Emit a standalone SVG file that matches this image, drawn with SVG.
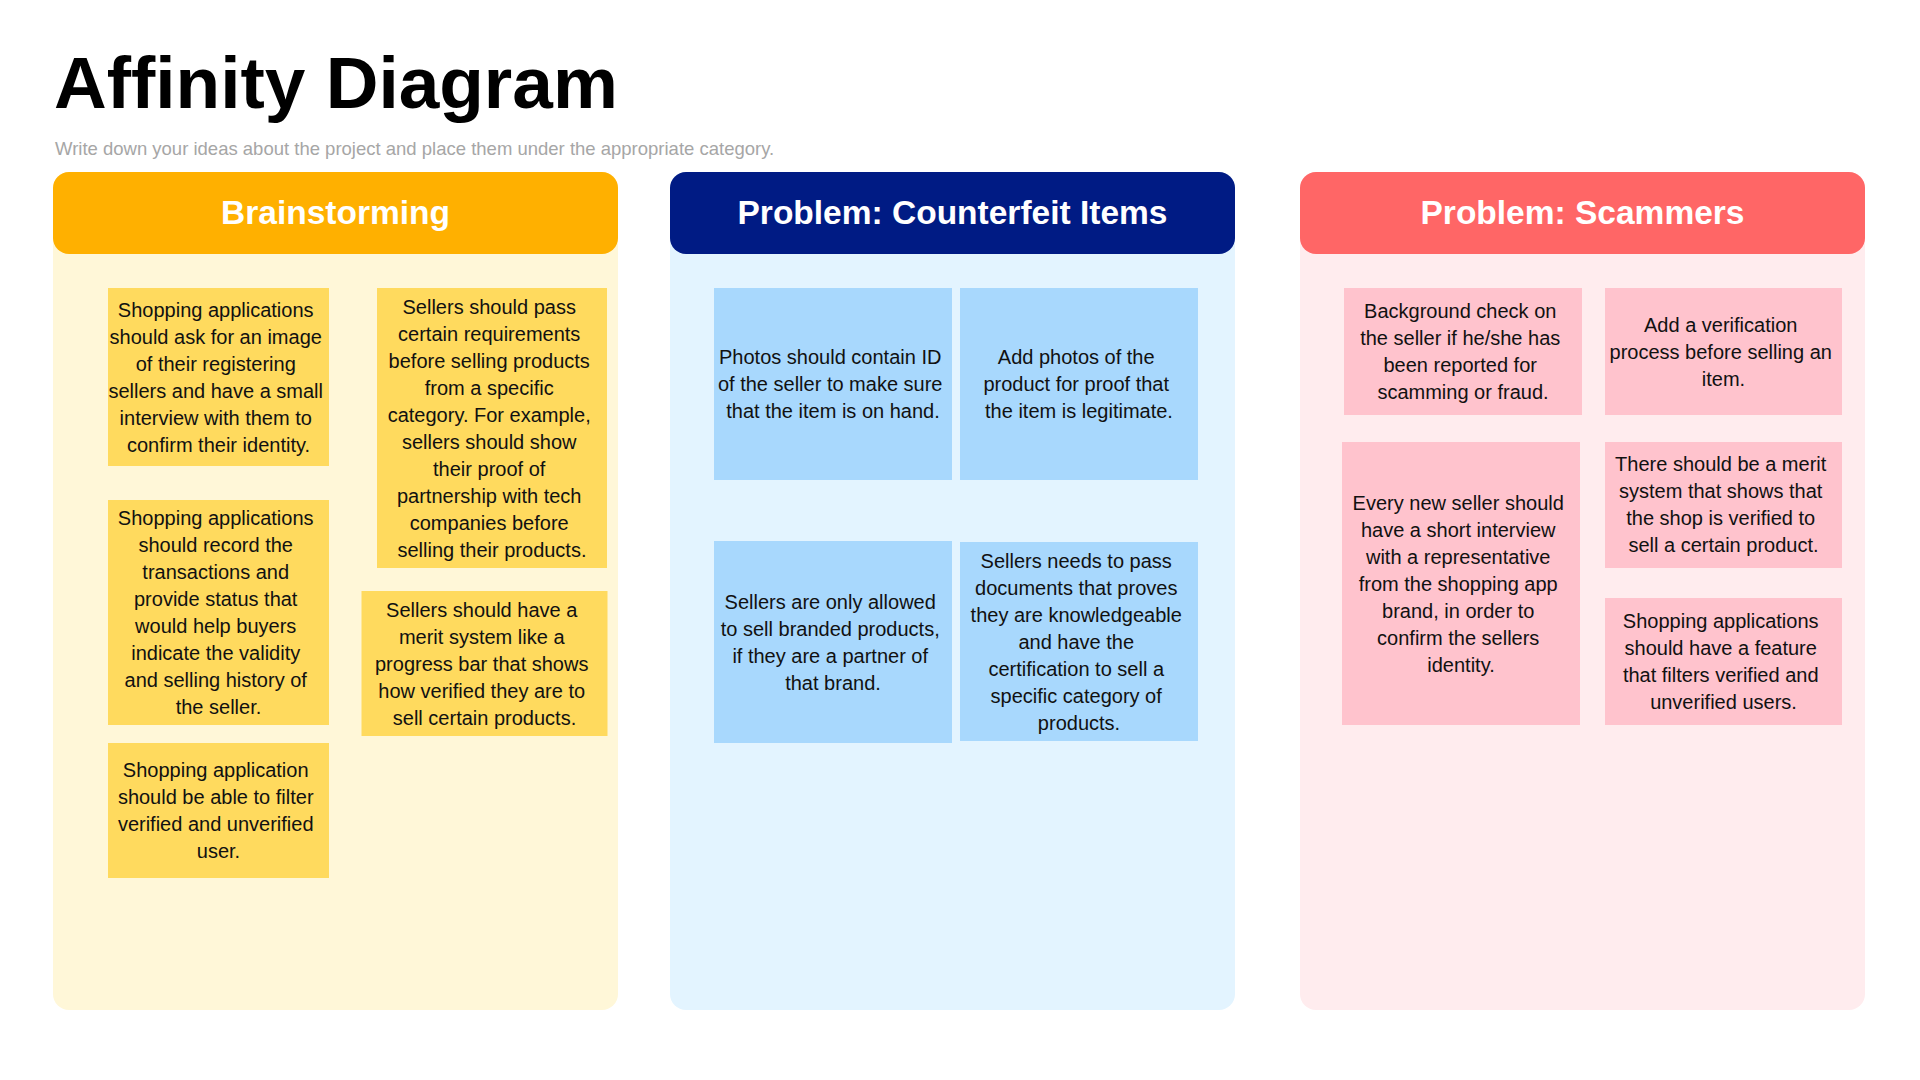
<svg xmlns="http://www.w3.org/2000/svg" width="1920" height="1080" viewBox="0 0 1920 1080">
  <style>
    .title { font-family: "Liberation Sans", Arial, sans-serif; font-weight: bold; font-size: 73px; fill: #000000; }
    .subtitle { font-family: "Liberation Sans", Arial, sans-serif; font-size: 18.5px; fill: #a6a6a6; }
    .head { font-family: "Liberation Sans", Arial, sans-serif; font-weight: bold; font-size: 33.5px; fill: #ffffff; text-anchor: middle; }
    .note { font-family: "Liberation Sans", Arial, sans-serif; font-size: 20px; fill: #111111; text-anchor: middle; }
    .yellow { fill: #ffda5e; }
    .blue { fill: #a8d8fd; }
    .pink { fill: #ffc3cd; }
  </style>

  <rect x="0" y="0" width="1920" height="1080" fill="#ffffff"/>

  <text class="title" x="54" y="108">Affinity Diagram</text>
  <text class="subtitle" x="55" y="155">Write down your ideas about the project and place them under the appropriate category.</text>

  <!-- Column panels -->
  <g id="col-brainstorming">
    <rect x="53" y="172" width="565" height="838" rx="16" fill="#fff7d8"/>
    <rect x="53" y="172" width="565" height="82" rx="16" fill="#ffb000"/>
    <text class="head" x="335.5" y="224">Brainstorming</text>
  </g>
  <g id="col-counterfeit">
    <rect x="670" y="172" width="565" height="838" rx="16" fill="#e3f4ff"/>
    <rect x="670" y="172" width="565" height="82" rx="16" fill="#001b84"/>
    <text class="head" x="952.5" y="224">Problem: Counterfeit Items</text>
  </g>
  <g id="col-scammers">
    <rect x="1300" y="172" width="565" height="838" rx="16" fill="#ffecee"/>
    <rect x="1300" y="172" width="565" height="82" rx="16" fill="#ff6666"/>
    <text class="head" x="1582.5" y="224">Problem: Scammers</text>
  </g>

  <!-- Brainstorming notes -->
  <g id="note-b1">
    <rect class="yellow" x="108" y="288" width="221" height="178"/>
    <text class="note" x="218.5" y="317">
      <tspan x="218.5">Shopping applications</tspan>
      <tspan x="218.5" dy="27">should ask for an image</tspan>
      <tspan x="218.5" dy="27">of their registering</tspan>
      <tspan x="218.5" dy="27">sellers and have a small</tspan>
      <tspan x="218.5" dy="27">interview with them to</tspan>
      <tspan x="218.5" dy="27">confirm their identity.</tspan>
    </text>
  </g>
  <g id="note-b2">
    <rect class="yellow" x="377" y="288" width="230" height="280"/>
    <text class="note" x="492" y="313.5">
      <tspan x="492">Sellers should pass</tspan>
      <tspan x="492" dy="27">certain requirements</tspan>
      <tspan x="492" dy="27">before selling products</tspan>
      <tspan x="492" dy="27">from a specific</tspan>
      <tspan x="492" dy="27">category. For example,</tspan>
      <tspan x="492" dy="27">sellers should show</tspan>
      <tspan x="492" dy="27">their proof of</tspan>
      <tspan x="492" dy="27">partnership with tech</tspan>
      <tspan x="492" dy="27">companies before</tspan>
      <tspan x="492" dy="27">selling their products.</tspan>
    </text>
  </g>
  <g id="note-b3">
    <rect class="yellow" x="108" y="500" width="221" height="225"/>
    <text class="note" x="218.5" y="524.5">
      <tspan x="218.5">Shopping applications</tspan>
      <tspan x="218.5" dy="27">should record the</tspan>
      <tspan x="218.5" dy="27">transactions and</tspan>
      <tspan x="218.5" dy="27">provide status that</tspan>
      <tspan x="218.5" dy="27">would help buyers</tspan>
      <tspan x="218.5" dy="27">indicate the validity</tspan>
      <tspan x="218.5" dy="27">and selling history of</tspan>
      <tspan x="218.5" dy="27">the seller.</tspan>
    </text>
  </g>
  <g id="note-b4">
    <rect class="yellow" x="361.5" y="591" width="246" height="145"/>
    <text class="note" x="484.5" y="616.5">
      <tspan x="484.5">Sellers should have a</tspan>
      <tspan x="484.5" dy="27">merit system like a</tspan>
      <tspan x="484.5" dy="27">progress bar that shows</tspan>
      <tspan x="484.5" dy="27">how verified they are to</tspan>
      <tspan x="484.5" dy="27">sell certain products.</tspan>
    </text>
  </g>
  <g id="note-b5">
    <rect class="yellow" x="108" y="743" width="221" height="135"/>
    <text class="note" x="218.5" y="777">
      <tspan x="218.5">Shopping application</tspan>
      <tspan x="218.5" dy="27">should be able to filter</tspan>
      <tspan x="218.5" dy="27">verified and unverified</tspan>
      <tspan x="218.5" dy="27">user.</tspan>
    </text>
  </g>

  <!-- Counterfeit notes -->
  <g id="note-c1">
    <rect class="blue" x="714" y="288" width="238" height="192"/>
    <text class="note" x="833" y="364">
      <tspan x="833">Photos should contain ID</tspan>
      <tspan x="833" dy="27">of the seller to make sure</tspan>
      <tspan x="833" dy="27">that the item is on hand.</tspan>
    </text>
  </g>
  <g id="note-c2">
    <rect class="blue" x="960" y="288" width="238" height="192"/>
    <text class="note" x="1079" y="364">
      <tspan x="1079">Add photos of the</tspan>
      <tspan x="1079" dy="27">product for proof that</tspan>
      <tspan x="1079" dy="27">the item is legitimate.</tspan>
    </text>
  </g>
  <g id="note-c3">
    <rect class="blue" x="714" y="541" width="238" height="202"/>
    <text class="note" x="833" y="608.5">
      <tspan x="833">Sellers are only allowed</tspan>
      <tspan x="833" dy="27">to sell branded products,</tspan>
      <tspan x="833" dy="27">if they are a partner of</tspan>
      <tspan x="833" dy="27">that brand.</tspan>
    </text>
  </g>
  <g id="note-c4">
    <rect class="blue" x="960" y="542" width="238" height="199"/>
    <text class="note" x="1079" y="567.5">
      <tspan x="1079">Sellers needs to pass</tspan>
      <tspan x="1079" dy="27">documents that proves</tspan>
      <tspan x="1079" dy="27">they are knowledgeable</tspan>
      <tspan x="1079" dy="27">and have the</tspan>
      <tspan x="1079" dy="27">certification to sell a</tspan>
      <tspan x="1079" dy="27">specific category of</tspan>
      <tspan x="1079" dy="27">products.</tspan>
    </text>
  </g>

  <!-- Scammer notes -->
  <g id="note-s1">
    <rect class="pink" x="1344" y="288" width="238" height="127"/>
    <text class="note" x="1463" y="318">
      <tspan x="1463">Background check on</tspan>
      <tspan x="1463" dy="27">the seller if he/she has</tspan>
      <tspan x="1463" dy="27">been reported for</tspan>
      <tspan x="1463" dy="27">scamming or fraud.</tspan>
    </text>
  </g>
  <g id="note-s2">
    <rect class="pink" x="1605" y="288" width="237" height="127"/>
    <text class="note" x="1723.5" y="331.5">
      <tspan x="1723.5">Add a verification</tspan>
      <tspan x="1723.5" dy="27">process before selling an</tspan>
      <tspan x="1723.5" dy="27">item.</tspan>
    </text>
  </g>
  <g id="note-s3">
    <rect class="pink" x="1342" y="442" width="238" height="283"/>
    <text class="note" x="1461" y="509.5">
      <tspan x="1461">Every new seller should</tspan>
      <tspan x="1461" dy="27">have a short interview</tspan>
      <tspan x="1461" dy="27">with a representative</tspan>
      <tspan x="1461" dy="27">from the shopping app</tspan>
      <tspan x="1461" dy="27">brand, in order to</tspan>
      <tspan x="1461" dy="27">confirm the sellers</tspan>
      <tspan x="1461" dy="27">identity.</tspan>
    </text>
  </g>
  <g id="note-s4">
    <rect class="pink" x="1605" y="442" width="237" height="126"/>
    <text class="note" x="1723.5" y="471">
      <tspan x="1723.5">There should be a merit</tspan>
      <tspan x="1723.5" dy="27">system that shows that</tspan>
      <tspan x="1723.5" dy="27">the shop is verified to</tspan>
      <tspan x="1723.5" dy="27">sell a certain product.</tspan>
    </text>
  </g>
  <g id="note-s5">
    <rect class="pink" x="1605" y="598" width="237" height="127"/>
    <text class="note" x="1723.5" y="628">
      <tspan x="1723.5">Shopping applications</tspan>
      <tspan x="1723.5" dy="27">should have a feature</tspan>
      <tspan x="1723.5" dy="27">that filters verified and</tspan>
      <tspan x="1723.5" dy="27">unverified users.</tspan>
    </text>
  </g>

  <!-- No connectors in this diagram -->
  <g id="connectors"/>
</svg>
